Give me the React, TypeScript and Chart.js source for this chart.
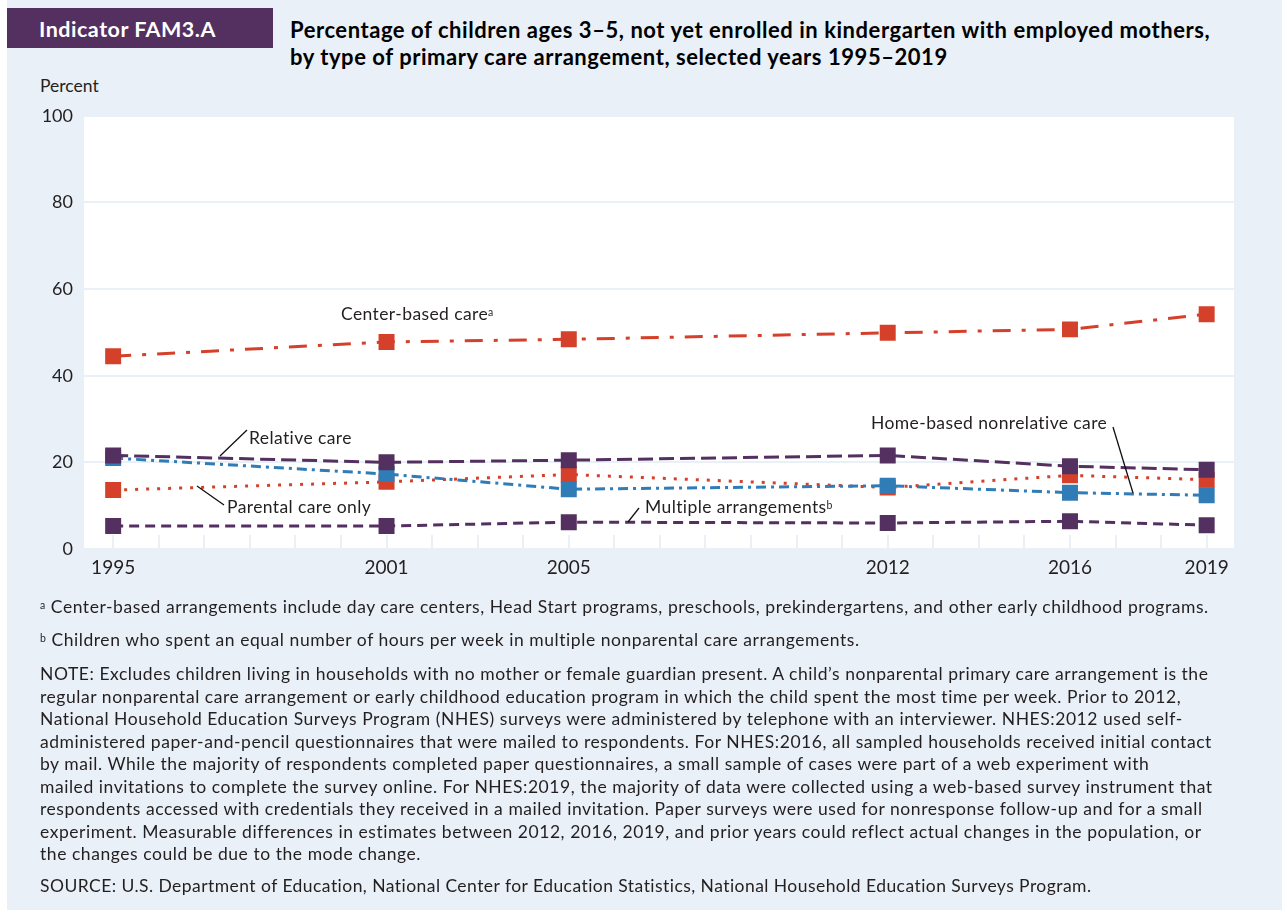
import React, { useEffect, useRef } from "react";
import { Chart, registerables } from "chart.js";

Chart.register(...registerables);

// ---- Data ----
const years = [1995, 2001, 2005, 2012, 2016, 2019];
const centerBased = [44.5, 47.8, 48.4, 49.9, 50.7, 54.2];
const relativeCare = [21.6, 20.0, 20.5, 21.6, 19.1, 18.3];
const homeBased = [21.0, 17.3, 13.8, 14.6, 13.0, 12.4];
const parentalOnly = [13.6, 15.5, 17.2, 14.2, 17.0, 16.0];
const multipleArr = [5.3, 5.3, 6.2, 6.0, 6.4, 5.5];
const yTickValues = [0, 20, 40, 60, 80, 100];
const minorYears = Array.from({ length: 25 }, (_, i) => 1995 + i);

const titleLines = [
  "Percentage of children ages 3\u20135, not yet enrolled in kindergarten with employed mothers,",
  "by type of primary care arrangement, selected years 1995\u20132019",
];
const noteLines = [
  "NOTE: Excludes children living in households with no mother or female guardian present. A child\u2019s nonparental primary care arrangement is the",
  "regular nonparental care arrangement or early childhood education program in which the child spent the most time per week. Prior to 2012,",
  "National Household Education Surveys Program (NHES) surveys were administered by telephone with an interviewer. NHES:2012 used self-",
  "administered paper-and-pencil questionnaires that were mailed to respondents. For NHES:2016, all sampled households received initial contact",
  "by mail. While the majority of respondents completed paper questionnaires, a small sample of cases were part of a web experiment with",
  "mailed invitations to complete the survey online. For NHES:2019, the majority of data were collected using a web-based survey instrument that",
  "respondents accessed with credentials they received in a mailed invitation. Paper surveys were used for nonresponse follow-up and for a small",
  "experiment. Measurable differences in estimates between 2012, 2016, 2019, and prior years could reflect actual changes in the population, or",
  "the changes could be due to the mode change.",
];
const footA = "Center-based arrangements include day care centers, Head Start programs, preschools, prekindergartens, and other early childhood programs.";
const footB = "Children who spent an equal number of hours per week in multiple nonparental care arrangements.";
const sourceLine = "SOURCE: U.S. Department of Education, National Center for Education Statistics, National Household Education Surveys Program.";

const RED = "#d5402b";
const BLUE = "#2f7cb6";
const PURPLE = "#53305f";
const BG = "#e9f0f7";
const INK = "#231f20";
const FONT = "Lato, 'Open Sans', sans-serif";

const toPts = (arr: number[]) => arr.map((v, i) => ({ x: years[i], y: v }));

const plotBg = {
  id: "plotBg",
  beforeDraw(chart: any) {
    const { ctx, chartArea } = chart;
    ctx.save();
    ctx.fillStyle = "#ffffff";
    ctx.fillRect(chartArea.left, chartArea.top, chartArea.right - chartArea.left, chartArea.bottom - chartArea.top);
    ctx.restore();
  },
};

const innerTicks = {
  id: "innerTicks",
  beforeDatasetsDraw(chart: any) {
    const { ctx, chartArea, scales } = chart;
    ctx.save();
    ctx.strokeStyle = BG;
    ctx.lineWidth = 2;
    minorYears.forEach((yr) => {
      const px = Math.round(scales.x.getPixelForValue(yr));
      ctx.beginPath();
      ctx.moveTo(px, chartArea.bottom);
      ctx.lineTo(px, chartArea.bottom - 14);
      ctx.stroke();
    });
    ctx.restore();
  },
};

function ChartCanvas() {
  const ref = useRef<HTMLCanvasElement | null>(null);
  useEffect(() => {
    if (!ref.current) return;
    const mk = (label: string, data: number[], color: string, dash: number[], order: number) => ({
      label,
      data: toPts(data),
      borderColor: color,
      backgroundColor: color,
      borderWidth: 3,
      borderDash: dash,
      pointStyle: "rect",
      pointRadius: 11.3,
      pointHoverRadius: 11.3,
      pointBorderWidth: 0,
      pointBackgroundColor: color,
      tension: 0,
      order,
    });
    const chart = new Chart(ref.current, {
      type: "line",
      data: {
        datasets: [
          mk("Relative care", relativeCare, PURPLE, [15, 6], 1),
          mk("Home-based nonrelative care", homeBased, BLUE, [10, 5, 3, 5], 2),
          mk("Parental care only", parentalOnly, RED, [3, 8], 3),
          mk("Multiple arrangements", multipleArr, PURPLE, [10, 6], 4),
          mk("Center-based care", centerBased, RED, [18, 11, 4, 11], 5),
        ] as any,
      },
      options: {
        animation: false,
        responsive: false,
        devicePixelRatio: 1,
        layout: { padding: { top: 9, right: 48, left: 0, bottom: 0 } },
        plugins: { legend: { display: false }, tooltip: { enabled: false } },
        scales: {
          x: {
            type: "linear",
            min: 1994.36,
            max: 2019.6,
            afterBuildTicks: (s: any) => {
              s.ticks = years.map((v) => ({ value: v }));
            },
            afterFit: (s: any) => {
              s.height = 41;
            },
            grid: { display: false, drawTicks: false },
            border: { display: false },
            ticks: {
              autoSkip: false,
              maxRotation: 0,
              padding: 7,
              color: INK,
              font: { family: FONT, size: 19 },
              callback: (v: any) => String(v),
            },
          },
          y: {
            min: 0,
            max: 100,
            afterBuildTicks: (s: any) => {
              s.ticks = yTickValues.map((v) => ({ value: v }));
            },
            afterFit: (s: any) => {
              s.width = 84;
            },
            grid: { color: BG, lineWidth: 2, drawTicks: false },
            border: { display: false },
            ticks: {
              padding: 11,
              color: INK,
              font: { family: FONT, size: 18 },
              callback: (v: any) => String(v),
            },
          },
        },
      } as any,
      plugins: [plotBg, innerTicks],
    });
    return () => chart.destroy();
  }, []);
  return (
    <canvas
      ref={ref}
      width={1282}
      height={496}
      style={{ position: "absolute", left: 0, top: 94, width: 1282, height: 496 }}
    />
  );
}

const abs = (left: number, top: number, extra: any = {}) => ({
  position: "absolute" as const,
  left,
  top,
  whiteSpace: "nowrap" as const,
  ...extra,
});

export default function App() {
  const noteStyle = { fontFamily: FONT, fontSize: 17.5, letterSpacing: "0.55px", color: INK, lineHeight: "22px" };
  const annStyle = { fontFamily: FONT, fontSize: 17.5, letterSpacing: "0.4px", color: INK, lineHeight: "20px" };
  const sup = { fontSize: 10.5, verticalAlign: "top", position: "relative" as const, top: -2 };
  return (
    <div style={{ position: "absolute", left: 0, top: 0, width: 1282, height: 920, background: "#ffffff", overflow: "hidden" }}>
      <div style={{ position: "absolute", left: 7, top: 0, width: 1275, height: 910, background: BG }} />
      <div style={{ position: "absolute", left: 7, top: 8, width: 266, height: 40, background: PURPLE }} />
      <div style={abs(39, 15, { fontFamily: FONT, fontWeight: 700, fontSize: 21.5, letterSpacing: "0.5px", color: "#fff", lineHeight: "28px" })}>
        Indicator FAM3.A
      </div>
      {titleLines.map((t, i) => (
        <div key={i} style={abs(290, 16 + i * 27, { fontFamily: FONT, fontWeight: 700, fontSize: 22, letterSpacing: "0.55px", color: "#000", lineHeight: "28px" })}>
          {t}
        </div>
      ))}
      <div style={abs(40, 75, { fontFamily: FONT, fontSize: 17.5, color: INK, lineHeight: "22px" })}>Percent</div>

      <ChartCanvas />

      <svg style={{ position: "absolute", left: 0, top: 0 }} width={1282} height={920}>
        <g stroke="#111" strokeWidth={1.3}>
          <line x1={247} y1={430} x2={220} y2={456} />
          <line x1={197} y1={486} x2={224} y2={505} />
          <line x1={628} y1={522} x2={639} y2={508} />
          <line x1={1113} y1={427} x2={1133} y2={493} />
        </g>
      </svg>

      <div style={abs(341, 304, annStyle)}>
        Center-based care<span style={sup}>a</span>
      </div>
      <div style={abs(249, 428, annStyle)}>Relative care</div>
      <div style={abs(227, 497, annStyle)}>Parental care only</div>
      <div style={abs(645, 497, annStyle)}>
        Multiple arrangements<span style={sup}>b</span>
      </div>
      <div style={abs(871, 413, annStyle)}>Home-based nonrelative care</div>

      <div style={abs(40, 596, noteStyle)}>
        <span style={sup}>a</span> {footA}
      </div>
      <div style={abs(40, 629, noteStyle)}>
        <span style={sup}>b</span> {footB}
      </div>
      {noteLines.map((t, i) => (
        <div key={i} style={abs(40, 663 + i * 22.5, noteStyle)}>
          {t}
        </div>
      ))}
      <div style={abs(40, 875, { ...noteStyle, letterSpacing: "0.45px" })}>{sourceLine}</div>
    </div>
  );
}
